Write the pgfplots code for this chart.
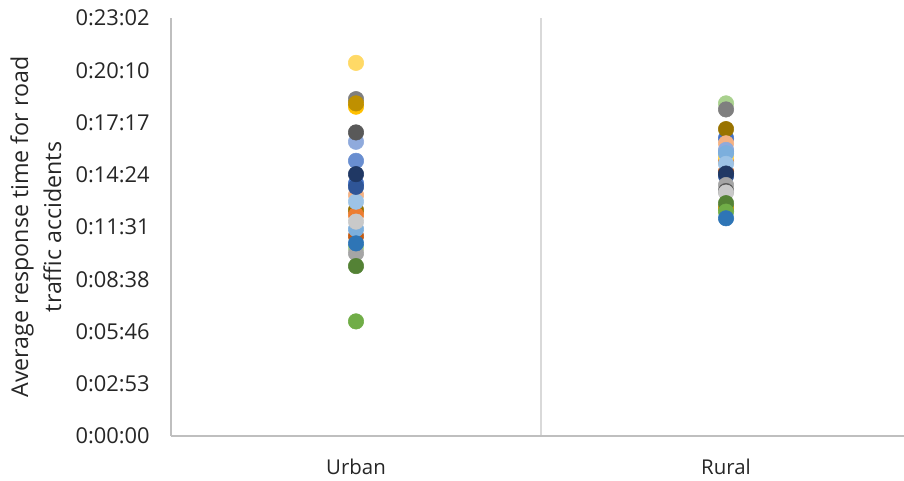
\documentclass[border=0pt]{standalone}
\usepackage{fontspec}
\setmainfont{Open Sans}
\usepackage{pgfplots}
\pgfplotsset{compat=1.18}

% series colours
\definecolor{axisgray}{HTML}{BFBFBF}
\definecolor{gridgray}{HTML}{D9D9D9}
\definecolor{txt}{HTML}{262626}
\definecolor{s01}{HTML}{A9D18E}
\definecolor{s02}{HTML}{7F7F7F}
\definecolor{s03}{HTML}{FFC000}
\definecolor{s04}{HTML}{BF9000}
\definecolor{s05}{HTML}{4472C4}
\definecolor{s06}{HTML}{F4B183}
\definecolor{s07}{HTML}{ED7D31}
\definecolor{s08}{HTML}{8FAADC}
\definecolor{s09}{HTML}{FFD966}
\definecolor{s10}{HTML}{C55A11}
\definecolor{s11}{HTML}{9DC3E6}
\definecolor{s12}{HTML}{2F5597}
\definecolor{s13}{HTML}{203864}
\definecolor{s14}{HTML}{A5A5A5}
\definecolor{s20}{HTML}{595959}
\definecolor{s15}{HTML}{C9C9C9}
\definecolor{s16}{HTML}{997300}
\definecolor{s17}{HTML}{548235}
\definecolor{s18}{HTML}{70AD47}
\definecolor{s19}{HTML}{2E75B6}
\definecolor{s21}{HTML}{698ED0}
\definecolor{s23}{HTML}{7CAFDD}

\begin{document}
\begin{tikzpicture}
\begin{axis}[
  at={(0,0)}, anchor=south west,
  scale only axis, width=549.75pt, height=313.5pt,
  xmin=0.5, xmax=2.481, ymin=0, ymax=1382.4,
  clip=false,
  axis x line*=bottom, axis y line*=left,
  axis line style={draw=axisgray, line width=1.1pt, -},
  xtick={1,2}, xticklabels={Urban,Rural},
  minor xtick={1.5}, xminorgrids,
  minor grid style={draw=gridgray, line width=1.1pt},
  ytick={0,172.8,345.6,518.4,691.2,864,1036.8,1209.6,1382.4},
  yticklabels={0:00:00,0:02:53,0:05:46,0:08:38,0:11:31,0:14:24,0:17:17,0:20:10,0:23:02},
  major tick length=0pt, minor tick length=0pt,
  tick style={draw=none},
  tick label style={text=txt, inner sep=0pt},
  xticklabel style={anchor=north, font=\fontsize{15.3}{18}\selectfont},
  xticklabel shift=17.3pt,
  yticklabel style={anchor=east, font=\fontsize{16.4}{18}\selectfont},
  yticklabel shift=15.75pt,
  ylabel={Average response time for road\\traffic accidents},
  ylabel style={at={(axis description cs:-0.1842,0.5)}, anchor=center,
    align=center, text=txt, inner sep=0pt,
    font=\fontsize{17.4}{24.75}\selectfont},
  pt/.style={only marks, mark=*, mark size=5.8pt, color=#1},
]
% one series per area: (Urban, Rural), values in seconds
\addplot[pt=s01] coordinates {(1,622)  (2,1100)};
\addplot[pt=s02] coordinates {(1,1114) (2,1080)};
\addplot[pt=s03] coordinates {(1,1089) (2,915)};
\addplot[pt=s04] coordinates {(1,1100) (2,754)};
\addplot[pt=s21] coordinates {(1,910)  (2,940)};
\addplot[pt=s05] coordinates {(1,835)  (2,985)};
\addplot[pt=s16] coordinates {(1,747)  (2,1015)};
\addplot[pt=s06] coordinates {(1,797)  (2,968)};
\addplot[pt=s07] coordinates {(1,731)  (2,907)};
\addplot[pt=s08] coordinates {(1,973)  (2,946)};
\addplot[pt=s09] coordinates {(1,1234) (2,924)};
\addplot[pt=s10] coordinates {(1,661)  (2,874)};
\addplot[pt=s23] coordinates {(1,684)  (2,935)};
\addplot[pt=s11] coordinates {(1,775)  (2,900)};
\addplot[pt=s12] coordinates {(1,824)  (2,860)};
\addplot[pt=s13] coordinates {(1,866)  (2,868)};
\addplot[pt=s14] coordinates {(1,604)  (2,830)};
\addplot[pt=s20] coordinates {(1,1004) (2,810)};
\addplot[pt=s15] coordinates {(1,709)  (2,805)};
\addplot[pt=s17] coordinates {(1,562)  (2,770)};
\addplot[pt=s18] coordinates {(1,379)  (2,742)};
\addplot[pt=s19] coordinates {(1,637)  (2,720)};
\end{axis}
\pgfresetboundingbox
\useasboundingbox (-128.25pt,-33.75pt) rectangle (549.75pt,327pt);
\end{tikzpicture}
\end{document}
